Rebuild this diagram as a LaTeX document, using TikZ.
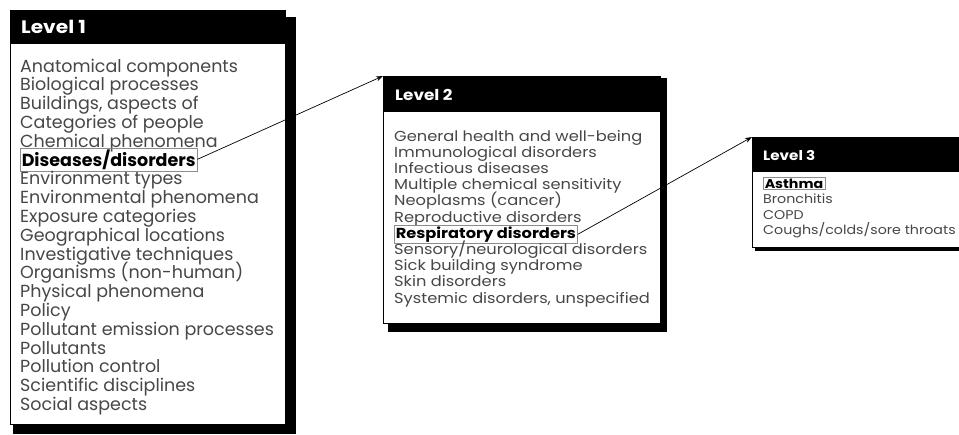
\documentclass[tikz,border=0pt]{standalone}
\usepackage{fontspec}
\setmainfont{Poppins}
\newfontfamily\widefont[FakeStretch=1.12]{Poppins}
\usetikzlibrary{positioning,arrows.meta}

\begin{document}
\begin{tikzpicture}[x=1pt,y=-1pt,
    panel/.style={draw,line width=.8pt,fill=white,inner sep=0pt,anchor=north west},
    title/.style={anchor=base west,inner sep=0pt,text=white,execute at begin node=\bfseries},
    entry/.style={anchor=base west,inner sep=0pt,text=black!72},
    chosen/.style={anchor=base west,inner sep=1.5pt,text=black,draw=black!45,line width=.5pt,execute at begin node=\bfseries},
    link/.style={-{Stealth[length=7pt,width=5pt]},line width=.7pt}]
  \useasboundingbox (0,0) rectangle (959,434);
  \clip (0,0) rectangle (959,434);

  % level 1
  \fill (13,17) rectangle (296,434);
  \node[panel,minimum width=275pt,minimum height=414pt] (p1) at (10,10) {};
  \fill (p1.north west) rectangle ([yshift=-34pt]p1.north east);
  \node[title,font=\widefont\fontsize{18}{20}\selectfont] (t1) at (21,33) {Level 1};
  \begin{scope}[font=\fontsize{17.5}{19}\selectfont]
    \foreach[count=\i,evaluate={72+18.8*(\i-1)} as \y] \entry in {Anatomical components,Biological processes,{Buildings, aspects of},Categories of people,Chemical phenomena,Diseases/disorders,Environment types,Environmental phenomena,Exposure categories,Geographical locations,Investigative techniques,Organisms (non-human),Physical phenomena,Policy,Pollutant emission processes,Pollutants,Pollution control,Scientific disciplines,Social aspects} {
      \ifnum\i=6
        \node[chosen] (dis) at (20,\y) {\entry};
      \else
        \node[entry] (a\i) at (20,\y) {\entry};
      \fi
    }
  \end{scope}

  % level 2
  \fill (388,78) rectangle (667,332);
  \node[panel,minimum width=277pt,minimum height=247pt] (p2) at (383,76) {};
  \fill (p2.north west) rectangle ([yshift=-36pt]p2.north east);
  \node[title,font=\widefont\fontsize{15}{17}\selectfont] (t2) at (395,100) {Level 2};
  \begin{scope}[font=\widefont\fontsize{14.5}{16}\selectfont]
    \foreach[count=\i,evaluate={141+16.2*(\i-1)} as \y] \entry in {General health and well-being,Immunological disorders,Infectious diseases,Multiple chemical sensitivity,Neoplasms (cancer),Reproductive disorders,Respiratory disorders,Sensory/neurological disorders,Sick building syndrome,Skin disorders,{Systemic disorders, unspecified}} {
      \ifnum\i=7
        \node[chosen] (resp) at (394,\y) {\entry};
      \else
        \node[entry] (b\i) at (394,\y) {\entry};
      \fi
    }
  \end{scope}

  % level 3
  \fill (755,140) rectangle (975,251);
  \node[panel,minimum width=220pt,minimum height=110pt] (p3) at (752,137) {};
  \fill (p3.north west) rectangle ([yshift=-35pt]p3.north east);
  \node[title,font=\widefont\fontsize{13.5}{15}\selectfont] (t3) at (763,160) {Level 3};
  \begin{scope}[font=\widefont\fontsize{12.7}{15}\selectfont]
    \foreach[count=\i,evaluate={188+15.5*(\i-1)} as \y] \entry in {Asthma,Bronchitis,COPD,Coughs/colds/sore throats} {
      \ifnum\i=1
        \node[chosen] (asth) at (763,\y) {\entry};
      \else
        \node[entry] (c\i) at (763,\y) {\entry};
      \fi
    }
  \end{scope}

  \draw[link] (dis.east) -- (p2.north west);
  \draw[link] (resp.east) -- (p3.north west);
\end{tikzpicture}
\end{document}
